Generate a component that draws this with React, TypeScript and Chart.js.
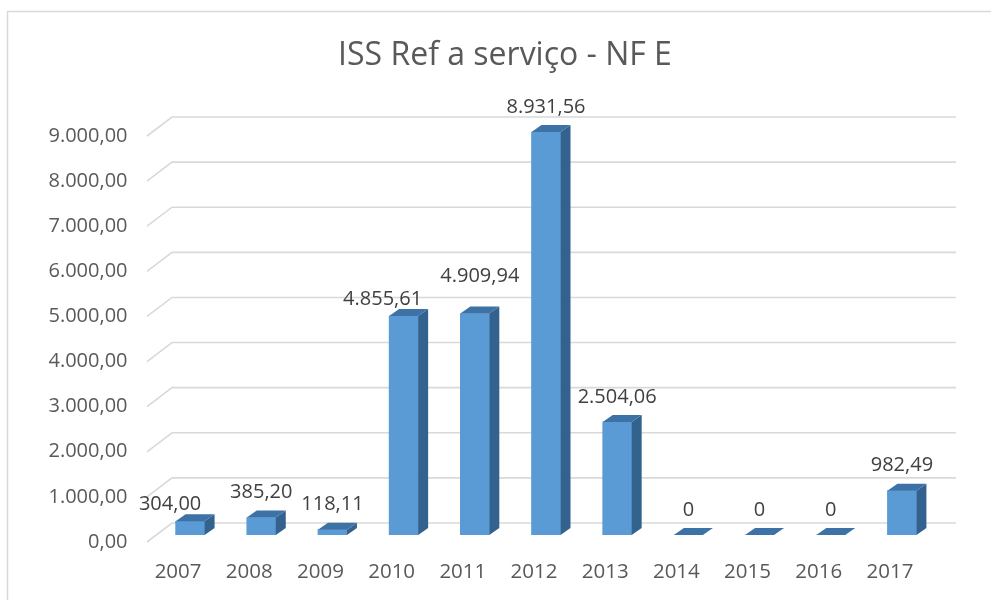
import { useEffect, useRef } from 'react';
import { Chart, registerables } from 'chart.js';

Chart.register(...registerables);

const chartTitle = 'ISS Ref a serviço - NF E';
const years = ['2007', '2008', '2009', '2010', '2011', '2012', '2013', '2014', '2015', '2016', '2017'];
const issValues = [304.0, 385.2, 118.11, 4855.61, 4909.94, 8931.56, 2504.06, 0, 0, 0, 982.49];
const yMin = 0;
const yMax = 9000;
const yStep = 1000;

// manual nudges of a few data labels (as in the original figure)
const labelNudges: Record<number, [number, number]> = {
  0: [-20, 8],
  3: [-21, 8],
  4: [5, -12],
};

const FONT = '"Open Sans", "Noto Sans", sans-serif';
const AXIS_COLOR = '#595959';
const LABEL_COLOR = '#404040';
const GRID_COLOR = '#d9d9d9';
const FRONT = '#5b9bd5';
const SIDE = '#33628e';
const TOP = '#3c72a5';
const DX = 10;
const DY = 7;

function fmtBR(v: number): string {
  const fixed = Math.abs(v).toFixed(2);
  const [i, d] = fixed.split('.');
  const withDots = i.replace(/\B(?=(\d{3})+(?!\d))/g, '.');
  return (v < 0 ? '-' : '') + withDots + ',' + d;
}

const threeD = {
  id: 'threeD',
  beforeDraw(chart: any) {
    const ctx = chart.ctx;
    ctx.save();
    ctx.strokeStyle = GRID_COLOR;
    ctx.lineWidth = 1.5;
    ctx.beginPath();
    ctx.moveTo(7.5, 700);
    ctx.lineTo(7.5, 11.5);
    ctx.lineTo(1100, 11.5);
    ctx.stroke();
    ctx.restore();
  },
  beforeDatasetsDraw(chart: any) {
    const ctx = chart.ctx;
    const { left, right } = chart.chartArea;
    const y = chart.scales.y;
    ctx.save();
    ctx.strokeStyle = GRID_COLOR;
    ctx.lineWidth = 1.6;
    y.ticks.forEach((t: any) => {
      const py = y.getPixelForValue(t.value);
      ctx.beginPath();
      ctx.moveTo(left - 7.5, py + 7);
      ctx.lineTo(left + 17.5, py - 12);
      ctx.lineTo(right + 18.5, py - 12);
      ctx.stroke();
    });
    ctx.restore();
  },
  afterDatasetsDraw(chart: any) {
    const ctx = chart.ctx;
    const meta = chart.getDatasetMeta(0);
    const data = chart.data.datasets[0].data as number[];
    ctx.save();
    meta.data.forEach((bar: any) => {
      const p = bar.getProps(['x', 'y', 'base', 'width'], true);
      const x1 = p.x - p.width / 2;
      const x2 = p.x + p.width / 2;
      const top = Math.min(p.y, p.base);
      const bottom = Math.max(p.y, p.base);
      // side face
      ctx.fillStyle = SIDE;
      ctx.beginPath();
      ctx.moveTo(x2, top);
      ctx.lineTo(x2 + DX, top - DY);
      ctx.lineTo(x2 + DX, bottom - DY);
      ctx.lineTo(x2, bottom);
      ctx.closePath();
      ctx.fill();
      // top face
      ctx.fillStyle = TOP;
      ctx.beginPath();
      ctx.moveTo(x1, top);
      ctx.lineTo(x1 + DX, top - DY);
      ctx.lineTo(x2 + DX, top - DY);
      ctx.lineTo(x2, top);
      ctx.closePath();
      ctx.fill();
    });
    // data labels
    ctx.fillStyle = LABEL_COLOR;
    ctx.font = `20px ${FONT}`;
    ctx.textAlign = 'center';
    ctx.textBaseline = 'middle';
    meta.data.forEach((bar: any, i: number) => {
      const p = bar.getProps(['x', 'y'], true);
      const v = data[i];
      const txt = v === 0 ? '0' : fmtBR(v);
      const n = labelNudges[i] || [0, 0];
      ctx.fillText(txt, p.x + n[0], p.y - 25 + n[1]);
    });
    ctx.restore();
  },
};

export default function App() {
  const ref = useRef<HTMLCanvasElement | null>(null);
  useEffect(() => {
    if (!ref.current) return;
    const chart = new Chart(ref.current, {
      type: 'bar',
      data: {
        labels: years,
        datasets: [
          {
            label: chartTitle,
            data: issValues,
            backgroundColor: FRONT,
            borderWidth: 0,
            barThickness: 29,
            yAxisID: 'y',
          },
        ],
      },
      options: {
        animation: false,
        responsive: false,
        devicePixelRatio: 1,
        layout: { padding: { left: 19, right: 0, top: 0, bottom: 0 } },
        plugins: {
          legend: { display: false },
          tooltip: { enabled: false },
          title: {
            display: true,
            text: chartTitle,
            color: AXIS_COLOR,
            font: { family: FONT, size: 32, weight: 'normal' },
            padding: { top: 36.8, bottom: 53.8 },
          },
        },
        scales: {
          x: {
            grid: { display: false, drawTicks: false },
            border: { display: false },
            ticks: {
              color: AXIS_COLOR,
              font: { family: FONT, size: 20.5 },
              padding: 25,
              labelOffset: -12,
              maxRotation: 0,
              autoSkip: false,
            },
            afterFit(scale: any) {
              scale.height = 65;
            },
          },
          y: {
            position: 'left',
            min: yMin,
            max: yMax,
            grid: { display: false, drawTicks: false },
            border: { display: false },
            ticks: {
              stepSize: yStep,
              color: AXIS_COLOR,
              font: { family: FONT, size: 20 },
              padding: 27,
              labelOffset: 7,
              callback: (v: any) => fmtBR(Number(v)),
            },
            afterFit(scale: any) {
              scale.width = 135.5;
            },
          },
          yRight: {
            position: 'right',
            display: true,
            grid: { display: false, drawTicks: false },
            border: { display: false },
            ticks: { display: false },
            afterFit(scale: any) {
              scale.width = 53.5;
            },
          },
        },
      },
      plugins: [threeD],
    });
    return () => chart.destroy();
  }, []);
  return (
    <div style={{ position: 'absolute', left: 0, top: 0, width: 991, height: 600, background: '#fff' }}>
      <canvas ref={ref} width={991} height={600} style={{ display: 'block' }} />
    </div>
  );
}
